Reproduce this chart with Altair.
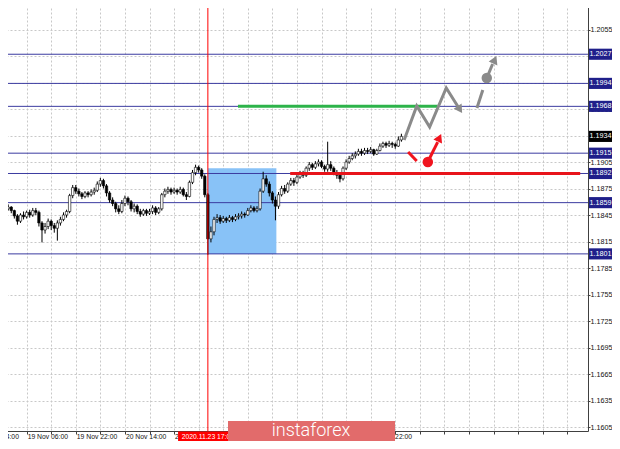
import altair as alt
import pandas as pd

# ---------------- data ----------------
bar_index = list(range(-7, 123))
first_open = 1.1854
close_prices = [
    1.1852, 1.1854, 1.1850, 1.1844, 1.1838, 1.1845, 1.1843,
    1.1848, 1.1845, 1.1850, 1.1848, 1.1836, 1.1828, 1.1832, 1.1838, 1.1833, 1.1830,
    1.1836, 1.1840, 1.1845, 1.1849, 1.1867, 1.1876, 1.1872, 1.1869, 1.1866, 1.1870,
    1.1868, 1.1871, 1.1873, 1.1880, 1.1884, 1.1878, 1.1870, 1.1862, 1.1858, 1.1852,
    1.1849, 1.1858, 1.1864, 1.1860, 1.1852, 1.1855, 1.1849, 1.1846, 1.1850, 1.1847,
    1.1849, 1.1853, 1.1848, 1.1852, 1.1868, 1.1872, 1.1874, 1.1871, 1.1873, 1.1871,
    1.1874, 1.1868, 1.1866, 1.1882, 1.1893, 1.1899, 1.1896, 1.1889, 1.1868, 1.1818,
    1.1826, 1.1840, 1.1842, 1.1838, 1.1841, 1.1839, 1.1842, 1.1840, 1.1843, 1.1844,
    1.1846, 1.1845, 1.1850, 1.1853, 1.1850, 1.1852, 1.1872, 1.1886, 1.1880, 1.1870,
    1.1862, 1.1855, 1.1868, 1.1875, 1.1872, 1.1880, 1.1884, 1.1882, 1.1888, 1.1892,
    1.1890, 1.1898, 1.1902, 1.1899, 1.1903, 1.1905, 1.1900, 1.1897, 1.1902, 1.1898,
    1.1893, 1.1890, 1.1886, 1.1898, 1.1905, 1.1909, 1.1912, 1.1914, 1.1917, 1.1915,
    1.1918, 1.1917, 1.1919, 1.1914, 1.1918, 1.1923, 1.1926, 1.1924, 1.1926, 1.1925,
    1.1923, 1.1930, 1.1934,
]
high_prices = [
    1.1856, 1.1857, 1.1855, 1.1851, 1.1846, 1.1847, 1.1849,
    1.1850, 1.1851, 1.1853, 1.1853, 1.1850, 1.1838, 1.1836, 1.1841, 1.1840, 1.1836,
    1.1839, 1.1843, 1.1848, 1.1851, 1.1869, 1.1879, 1.1879, 1.1875, 1.1871, 1.1872,
    1.1872, 1.1874, 1.1876, 1.1883, 1.1887, 1.1886, 1.1880, 1.1872, 1.1865, 1.1860,
    1.1856, 1.1862, 1.1867, 1.1866, 1.1862, 1.1858, 1.1857, 1.1852, 1.1852, 1.1852,
    1.1852, 1.1856, 1.1855, 1.1854, 1.1870, 1.1875, 1.1877, 1.1876, 1.1876, 1.1875,
    1.1877, 1.1876, 1.1871, 1.1884, 1.1896, 1.1902, 1.1901, 1.1898, 1.1891, 1.1870,
    1.1832, 1.1843, 1.1846, 1.1845, 1.1844, 1.1843, 1.1845, 1.1844, 1.1846, 1.1847,
    1.1849, 1.1848, 1.1853, 1.1856, 1.1855, 1.1855, 1.1875, 1.1894, 1.1890, 1.1883,
    1.1872, 1.1866, 1.1871, 1.1878, 1.1879, 1.1882, 1.1887, 1.1887, 1.1891, 1.1895,
    1.1895, 1.1900, 1.1905, 1.1904, 1.1906, 1.1908, 1.1907, 1.1902, 1.1928, 1.1906,
    1.1900, 1.1896, 1.1892, 1.1900, 1.1908, 1.1912, 1.1915, 1.1917, 1.1920, 1.1920,
    1.1921, 1.1921, 1.1922, 1.1920, 1.1920, 1.1926, 1.1928, 1.1928, 1.1929, 1.1928,
    1.1927, 1.1934, 1.1937,
]
low_prices = [
    1.1848, 1.1850, 1.1847, 1.1841, 1.1834, 1.1836, 1.1840,
    1.1841, 1.1842, 1.1843, 1.1845, 1.1832, 1.1814, 1.1824, 1.1829, 1.1828, 1.1825,
    1.1816, 1.1833, 1.1838, 1.1842, 1.1847, 1.1864, 1.1869, 1.1866, 1.1863, 1.1864,
    1.1865, 1.1866, 1.1868, 1.1871, 1.1877, 1.1875, 1.1866, 1.1859, 1.1855, 1.1848,
    1.1846, 1.1847, 1.1855, 1.1856, 1.1849, 1.1848, 1.1846, 1.1843, 1.1844, 1.1844,
    1.1845, 1.1846, 1.1845, 1.1846, 1.1850, 1.1865, 1.1869, 1.1868, 1.1869, 1.1868,
    1.1869, 1.1866, 1.1862, 1.1865, 1.1880, 1.1890, 1.1893, 1.1886, 1.1865, 1.1800,
    1.1814, 1.1822, 1.1836, 1.1835, 1.1836, 1.1836, 1.1837, 1.1837, 1.1838, 1.1840,
    1.1841, 1.1842, 1.1844, 1.1848, 1.1848, 1.1848, 1.1850, 1.1870, 1.1877, 1.1866,
    1.1858, 1.1839, 1.1852, 1.1866, 1.1869, 1.1870, 1.1878, 1.1878, 1.1880, 1.1886,
    1.1887, 1.1888, 1.1895, 1.1896, 1.1897, 1.1900, 1.1898, 1.1894, 1.1894, 1.1895,
    1.1890, 1.1886, 1.1882, 1.1884, 1.1896, 1.1903, 1.1907, 1.1909, 1.1912, 1.1912,
    1.1913, 1.1914, 1.1915, 1.1912, 1.1913, 1.1917, 1.1921, 1.1921, 1.1922, 1.1921,
    1.1920, 1.1922, 1.1928,
]
open_prices = [first_open] + close_prices[:-1]

level_prices = [1.2027, 1.1994, 1.1968, 1.1915, 1.1892, 1.1859, 1.1801]
box_prices = [1.2027, 1.1994, 1.1968, 1.1934, 1.1915, 1.1892, 1.1859, 1.1801]
box_labels = ["1.2027", "1.1994", "1.1968", "1.1934", "1.1915", "1.1892", "1.1859", "1.1801"]
box_colors = ["#1F1F8A", "#1F1F8A", "#1F1F8A", "#000000", "#1F1F8A", "#1F1F8A", "#1F1F8A", "#1F1F8A"]

price_ticks = [1.1605, 1.1635, 1.1665, 1.1695, 1.1725, 1.1755, 1.1785, 1.1815, 1.1845,
               1.1875, 1.1905, 1.1935, 1.1965, 1.1995, 1.2025, 1.2055, 1.2085]
covered_tick_labels = ["1.2025", "1.1995", "1.1935"]
grid_index = [-8, 0, 8, 16, 24, 32, 40, 48, 56, 64, 72, 80, 88, 96, 104, 112, 120,
              128, 136, 144, 152, 160, 168, 176]
time_tick_index = [-16, 0, 16, 32, 48, 112]
time_tick_labels = ["18 Nov 14:00", "19 Nov 06:00", "19 Nov 22:00", "20 Nov 14:00",
                    "23 Nov 06:00", "25 Nov 22:00"]

zone_index = [59.0, 81.3]
zone_prices = [1.1898, 1.1801]
marker_index = 59
marker_label = "2020.11.23 17:00"
marker_box_index = [49.3, 68.9]

green_index = [68.8, 133.8]
green_price = 1.1968
red_index = [85.8, 180.2]
red_price = 1.1892

grey_seg = ["a", "a", "a", "a", "a", "b", "b", "c", "c"]
grey_i = [122.9, 127.0, 131.2, 136.6, 140.5, 146.6, 148.5, 149.8, 151.7]
grey_p = [1.19299, 1.19684, 1.19446, 1.19888, 1.19673, 1.19661, 1.19865, 1.20001, 1.20159]
red_seg = ["d", "d", "e", "e"]
red_i = [124.2, 127.0, 130.9, 133.8]
red_p = [1.19163, 1.19061, 1.19073, 1.19276]
head_i = [140.8, 152.2, 134.2]
head_p = [1.19656, 1.20193, 1.19310]
head_angle = [147, 24, 25]
head_color = ["#8A8A8A", "#8A8A8A", "#F0141E"]
dot_i = [149.8, 130.6]
dot_p = [1.20001, 1.19050]
dot_color = ["#8A8A8A", "#F0141E"]

# ---------------- tables ----------------
candles = pd.DataFrame({"i": bar_index, "open": open_prices, "close": close_prices,
                        "high": high_prices, "low": low_prices})
levels = pd.DataFrame({"price": level_prices})
boxes = pd.DataFrame({"price": box_prices, "label": box_labels, "col": box_colors,
                      "top": [p + 0.00063 for p in box_prices],
                      "bot": [p - 0.00063 for p in box_prices]})
times = pd.DataFrame({"i": time_tick_index, "label": time_tick_labels})
zone = pd.DataFrame({"x0": [zone_index[0]], "x1": [zone_index[1]],
                     "top": [zone_prices[0]], "bot": [zone_prices[1]]})
marker = pd.DataFrame({"i": [marker_index], "label": [marker_label],
                       "x0": [marker_box_index[0]], "x1": [marker_box_index[1]]})
green = pd.DataFrame({"x0": [green_index[0]], "x1": [green_index[1]], "p": [green_price]})
redl = pd.DataFrame({"x0": [red_index[0]], "x1": [red_index[1]], "p": [red_price]})
grey_lines = pd.DataFrame({"seg": grey_seg, "i": grey_i, "p": grey_p})
red_lines = pd.DataFrame({"seg": red_seg, "i": red_i, "p": red_p})
heads = pd.DataFrame({"i": head_i, "p": head_p, "ang": head_angle, "col": head_color})
dots = pd.DataFrame({"i": dot_i, "p": dot_p, "col": dot_color})
one = pd.DataFrame({"t": ["instaforex"]})

# ---------------- scales / axes ----------------
xs = alt.Scale(domain=[-7.04, 181.12], nice=False, zero=False)
ys = alt.Scale(domain=[1.16005, 1.20884], nice=False, zero=False)
GRID = "#C8C8C8"
hide_expr = "indexof(" + str(covered_tick_labels) + ", datum.label) >= 0 ? '' : datum.label"
x_axis = alt.Axis(values=grid_index, labels=False, ticks=True, tickSize=3, grid=True,
                  gridDash=[2, 2], gridColor=GRID, domainColor="#404040",
                  tickColor="#404040", title=None)
y_axis = alt.Axis(orient="right", values=price_ticks, format=".4f", labelFontSize=7.2,
                  labelColor="#111111", labelFont="Liberation Sans", tickSize=2,
                  labelPadding=0, labelExpr=hide_expr, grid=True, gridDash=[2, 2],
                  gridColor=GRID, domainColor="#404040", tickColor="#404040", title=None)


def X(f):
    return alt.X(f, type="quantitative", scale=xs, axis=x_axis)


def Y(f):
    return alt.Y(f, type="quantitative", scale=ys, axis=y_axis)


zone_layer = alt.Chart(zone).mark_rect(color="#88C2F7").encode(
    x=X("x0"), x2="x1", y=Y("top"), y2="bot")
level_layer = alt.Chart(levels).mark_rule(color="#3B3BA0", strokeWidth=1).encode(y=Y("price"))
wick_layer = alt.Chart(candles).mark_rule(color="black", strokeWidth=1).encode(
    x=X("i"), y=Y("low"), y2="high")
body_layer = alt.Chart(candles).mark_bar(size=2.4, stroke="black", strokeWidth=0.6).encode(
    x=X("i"), y=Y("open"), y2="close",
    fill=alt.condition("datum.close >= datum.open", alt.value("white"), alt.value("black")))
green_layer = alt.Chart(green).mark_rule(color="#2DB34A", strokeWidth=3).encode(
    x=X("x0"), x2="x1", y=Y("p"))
red_layer = alt.Chart(redl).mark_rule(color="#E8141B", strokeWidth=3).encode(
    x=X("x0"), x2="x1", y=Y("p"))
vline_layer = alt.Chart(marker).mark_rule(color="#FF0000", strokeWidth=1).encode(x=X("i"))
grey_layer = alt.Chart(grey_lines).mark_line(color="#8A8A8A", strokeWidth=3).encode(
    x=X("i"), y=Y("p"), detail="seg")
redarrow_layer = alt.Chart(red_lines).mark_line(color="#F0141E", strokeWidth=3).encode(
    x=X("i"), y=Y("p"), detail="seg")
head_layer = alt.Chart(heads).mark_point(shape="triangle", filled=True, opacity=1, size=90).encode(
    x=X("i"), y=Y("p"), angle=alt.Angle("ang:Q", scale=None),
    color=alt.Color("col:N", scale=None))
dot_layer = alt.Chart(dots).mark_point(shape="circle", filled=True, opacity=1, size=110).encode(
    x=X("i"), y=Y("p"), color=alt.Color("col:N", scale=None))
box_layer = alt.Chart(boxes).mark_rect().encode(
    x=alt.value(589), x2=alt.value(613), y=Y("top"), y2="bot",
    color=alt.Color("col:N", scale=None))
boxtext_layer = alt.Chart(boxes).mark_text(align="left", baseline="middle", color="white",
                                           fontSize=7.2, font="Liberation Sans").encode(
    x=alt.value(589.5), y=Y("price"), text="label")
time_layer = alt.Chart(times).mark_text(align="left", baseline="middle", color="#111111",
                                        fontSize=6.8, font="Liberation Sans", dx=1).encode(
    x=X("i"), y=alt.value(437), text="label")
mbox_layer = alt.Chart(marker).mark_rect(color="#FF0000").encode(
    x=X("x0"), x2="x1", y=alt.value(431.5), y2=alt.value(442))
mtext_layer = alt.Chart(marker).mark_text(align="center", baseline="middle", color="white",
                                          fontSize=6.8, font="Liberation Sans").encode(
    x=X("i"), y=alt.value(437), text="label")
logo_rect = alt.Chart(one).mark_rect(color="#E26B6B").encode(
    x=alt.value(228), x2=alt.value(395), y=alt.value(421), y2=alt.value(455))
logo_text = alt.Chart(one).mark_text(align="center", baseline="middle", color="white",
                                     fontSize=18, font="Roboto", fontWeight=300).encode(
    x=alt.value(311), y=alt.value(430.5), text="t")

chart = alt.layer(
    zone_layer, level_layer, wick_layer, body_layer, green_layer, red_layer, vline_layer,
    grey_layer, redarrow_layer, head_layer, dot_layer, box_layer, boxtext_layer,
    time_layer, mbox_layer, mtext_layer, logo_rect, logo_text,
).properties(
    width=588, height=431,
    padding={"left": -8, "top": -8, "right": 24, "bottom": 10},
    autosize=alt.AutoSizeParams(type="none"),
    background="white",
).configure(font="Liberation Sans").configure_view(stroke="transparent")

chart.save("out.html", embed_options={"renderer": "svg", "actions": False})
